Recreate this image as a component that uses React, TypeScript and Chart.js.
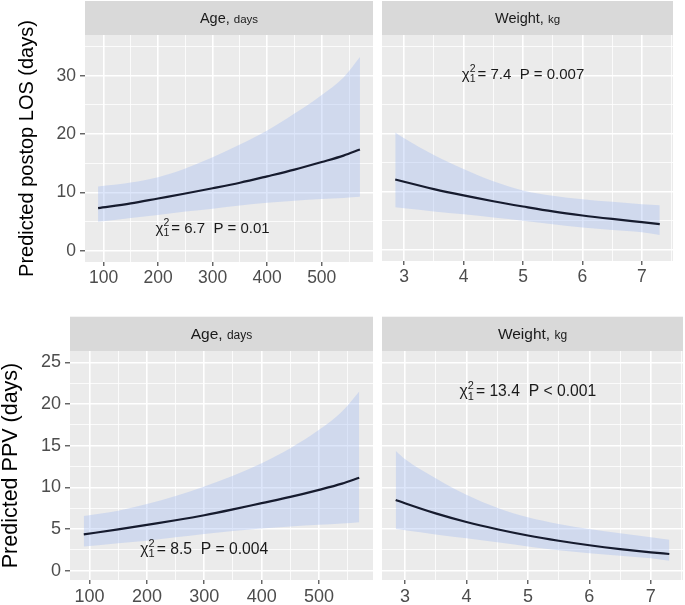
import React, { useEffect, useRef } from "react";
import { Chart, registerables } from "chart.js";

Chart.register(...registerables);

const FONT = '"Liberation Sans", Arial, Helvetica, sans-serif';

// ---------------- data ----------------
const ageDays = [90, 150, 200, 250, 300, 350, 400, 450, 500, 540, 570];
const losAgeFit = [7.3, 8.1, 8.95, 9.8, 10.7, 11.65, 12.75, 13.9, 15.2, 16.3, 17.35];
const losAgeUpper = [11.0, 11.7, 12.6, 14.1, 16.0, 18.2, 20.6, 23.5, 26.7, 29.7, 33.2];
const losAgeLower = [4.95, 5.6, 6.1, 6.7, 7.2, 7.75, 8.2, 8.55, 8.85, 9.05, 9.25];

const weightKg = [2.85, 3.0, 3.5, 4.0, 4.5, 5.0, 5.5, 6.0, 6.5, 7.0, 7.3];
const losWtFit = [12.1, 11.7, 10.45, 9.35, 8.35, 7.45, 6.6, 5.9, 5.3, 4.75, 4.42];
const losWtUpper = [20.2, 19.2, 16.3, 13.9, 11.8, 10.2, 9.3, 8.7, 8.25, 7.85, 7.65];
const losWtLower = [7.3, 7.15, 6.6, 6.1, 5.55, 5.0, 4.4, 3.85, 3.4, 3.0, 2.55];

const ppvAgeFit = [4.35, 4.95, 5.5, 6.05, 6.65, 7.35, 8.1, 8.85, 9.7, 10.45, 11.15];
const ppvAgeUpper = [6.55, 7.2, 8.0, 8.95, 10.1, 11.4, 12.9, 14.7, 16.9, 19.1, 21.5];
const ppvAgeLower = [2.9, 3.3, 3.6, 4.0, 4.4, 4.75, 5.05, 5.3, 5.5, 5.65, 5.8];

const ppvWtFit = [8.49, 8.09, 6.87, 5.84, 4.97, 4.22, 3.59, 3.05, 2.59, 2.2, 2.0];
const ppvWtUpper = [14.4, 13.4, 11.1, 9.1, 7.55, 6.4, 5.6, 5.0, 4.5, 4.0, 3.7];
const ppvWtLower = [5.0, 4.85, 4.35, 3.9, 3.4, 2.9, 2.45, 2.1, 1.8, 1.5, 1.2];

// tick values
const ageTicks = [100, 200, 300, 400, 500];
const ageMinorTicks = [150, 250, 350, 450, 550];
const weightTicks = [3, 4, 5, 6, 7];
const weightMinorTicks = [3.5, 4.5, 5.5, 6.5, 7.5];
const losTicks = [0, 10, 20, 30];
const losMinorTicks = [5, 15, 25, 35];
const ppvTicks = [0, 5, 10, 15, 20, 25];
const ppvMinorTicks = [2.5, 7.5, 12.5, 17.5, 22.5];

// axis limits
const ageLimits = [66, 594];
const weightLimits = [2.6275, 7.5225];
const losLimits = [-1.94, 36.98];
const ppvLimits = [-1.12, 26.36];

// facet labels and test statistics
const facetAge = ["Age,", "days"];
const facetWeight = ["Weight,", "kg"];
const yTitleLos = "Predicted postop LOS (days)";
const yTitlePpv = "Predicted PPV (days)";
const noteLosAge = { x: 300, y: 4.0, stat: "6.7", rel: "=", p: "0.01" };
const noteLosWt = { x: 5, y: 30.4, stat: "7.4", rel: "=", p: "0.007" };
const notePpvAge = { x: 300, y: 2.7, stat: "8.5", rel: "=", p: "0.004" };
const notePpvWt = { x: 5, y: 21.6, stat: "13.4", rel: "<", p: "0.001" };

// ---------------- drawing helpers ----------------
const panelPlugin = {
  id: "ggpanel",
  beforeDraw(chart: any, _args: any, opts: any) {
    const { ctx, chartArea: a } = chart;
    ctx.save();
    ctx.fillStyle = "#EBEBEB";
    ctx.fillRect(a.left, a.top, a.right - a.left, a.bottom - a.top);
    ctx.fillStyle = "#D9D9D9";
    ctx.fillRect(a.left, opts.stripTop, a.right - a.left, a.top - opts.stripTop);
    ctx.fillStyle = "#1A1A1A";
    ctx.textBaseline = "alphabetic";
    ctx.textAlign = "left";
    const mainFont = `${opts.mainSize}px ${FONT}`;
    const subFont = `${opts.subSize}px ${FONT}`;
    const m = opts.label[0] + " ";
    ctx.font = mainFont;
    const wm = ctx.measureText(m).width;
    ctx.font = subFont;
    const ws = ctx.measureText(opts.label[1]).width;
    const cx = (a.left + a.right) / 2;
    const x0 = cx - (wm + ws) / 2;
    ctx.font = mainFont;
    ctx.fillText(m, x0, opts.stripBaseline);
    ctx.font = subFont;
    ctx.fillText(opts.label[1], x0 + wm, opts.stripBaseline);
    ctx.restore();
  },
  afterDatasetsDraw(chart: any, _args: any, opts: any) {
    const { ctx, scales } = chart;
    const n = opts.note;
    const size = opts.noteSize;
    const px = scales.x.getPixelForValue(n.x);
    const py = scales.y.getPixelForValue(n.y);
    const big = `${size}px ${FONT}`;
    const small = `${size * 0.7}px ${FONT}`;
    ctx.save();
    ctx.fillStyle = "#1A1A1A";
    ctx.textAlign = "left";
    ctx.textBaseline = "alphabetic";
    ctx.font = big;
    const wChi = ctx.measureText("\u03C7").width;
    const rest = "= " + n.stat + "  P " + n.rel + " " + n.p;
    const wRest = ctx.measureText(rest).width;
    ctx.font = small;
    const wScr = Math.max(ctx.measureText("2").width, ctx.measureText("1").width) + 2;
    const total = wChi + wScr + wRest;
    const base = py + (size * 0.716) / 2;
    let x = px - total / 2;
    ctx.font = big;
    ctx.fillText("\u03C7", x, base);
    x += wChi;
    ctx.font = small;
    ctx.fillText("2", x, base - size * 0.46);
    ctx.fillText("1", x, base + size * 0.22);
    x += wScr;
    ctx.font = big;
    ctx.fillText(rest, x, base);
    ctx.restore();
  },
};

type Spec = {
  box: { left: number; top: number; width: number; height: number };
  area: { left: number; right: number; top: number; bottom: number };
  stripTop: number;
  stripBaseline: number;
  label: string[];
  mainSize: number;
  subSize: number;
  xs: number[];
  fit: number[];
  upper: number[];
  lower: number[];
  xLim: number[];
  yLim: number[];
  xMajor: number[];
  xMinor: number[];
  yMajor: number[];
  yMinor: number[];
  yLabels: boolean;
  yTitle?: string;
  yTitleSize?: number;
  yTitlePad?: number;
  tickSize: number;
  note: any;
  noteSize: number;
};

const RIBBON = "rgba(160,185,240,0.36)";
const LINE = "#161B2E";

function toPts(xs: number[], ys: number[]) {
  return xs.map((x, i) => ({ x, y: ys[i] }));
}

function Panel({ spec }: { spec: Spec }) {
  const ref = useRef<HTMLCanvasElement>(null);
  useEffect(() => {
    const s = spec;
    const isMajor = (vals: number[], v: number) => vals.some((m) => Math.abs(m - v) < 1e-9);
    const chart = new Chart(ref.current as HTMLCanvasElement, {
      type: "line",
      data: {
        datasets: [
          {
            data: toPts(s.xs, s.fit),
            borderWidth: 2.2,
            pointRadius: 0,
            fill: false,
            borderColor: LINE,
            cubicInterpolationMode: "monotone",
          },
          {
            data: toPts(s.xs, s.upper),
            borderWidth: 0,
            pointRadius: 0,
            fill: "+1",
            backgroundColor: RIBBON,
            borderColor: "rgba(0,0,0,0)",
            cubicInterpolationMode: "monotone",
          },
          {
            data: toPts(s.xs, s.lower),
            borderWidth: 0,
            pointRadius: 0,
            fill: false,
            borderColor: "rgba(0,0,0,0)",
            cubicInterpolationMode: "monotone",
          },
        ],
      } as any,
      options: {
        animation: false,
        responsive: false,
        maintainAspectRatio: false,
        devicePixelRatio: 1,
        events: [],
        layout: {
          padding: { left: 0, top: s.area.top, right: s.box.width - s.area.right, bottom: 0 },
        },
        plugins: {
          legend: { display: false },
          tooltip: { enabled: false },
          ggpanel: {
            stripTop: s.stripTop,
            stripBaseline: s.stripBaseline,
            label: s.label,
            mainSize: s.mainSize,
            subSize: s.subSize,
            note: s.note,
            noteSize: s.noteSize,
          },
        } as any,
        scales: {
          x: {
            type: "linear",
            min: s.xLim[0],
            max: s.xLim[1],
            afterBuildTicks: (sc: any) => {
              sc.ticks = [...s.xMajor, ...s.xMinor]
                .filter((v) => v >= s.xLim[0] && v <= s.xLim[1])
                .sort((a, b) => a - b)
                .map((v) => ({ value: v }));
            },
            afterFit: (sc: any) => {
              sc.height = s.box.height - s.area.bottom;
            },
            ticks: {
              autoSkip: false,
              maxRotation: 0,
              minRotation: 0,
              padding: 2,
              color: "#4D4D4D",
              font: { family: FONT, size: s.tickSize },
              callback: (v: any) => (isMajor(s.xMajor, Number(v)) ? String(v) : ""),
            },
            grid: {
              color: "#FFFFFF",
              lineWidth: (c: any) => (c.tick && isMajor(s.xMajor, c.tick.value) ? 1.6 : 0.8),
              tickLength: 4,
              tickWidth: 1.1,
              tickColor: (c: any) =>
                c.tick && isMajor(s.xMajor, c.tick.value) ? "#333333" : "rgba(0,0,0,0)",
            },
            border: { display: false },
          },
          y: {
            type: "linear",
            min: s.yLim[0],
            max: s.yLim[1],
            afterBuildTicks: (sc: any) => {
              sc.ticks = [...s.yMajor, ...s.yMinor]
                .filter((v) => v >= s.yLim[0] && v <= s.yLim[1])
                .sort((a, b) => a - b)
                .map((v) => ({ value: v }));
            },
            afterFit: (sc: any) => {
              sc.width = s.area.left;
            },
            ticks: {
              display: s.yLabels,
              autoSkip: false,
              padding: 4,
              color: "#4D4D4D",
              font: { family: FONT, size: s.tickSize },
              callback: (v: any) => (isMajor(s.yMajor, Number(v)) ? String(v) : ""),
            },
            grid: {
              color: "#FFFFFF",
              lineWidth: (c: any) => (c.tick && isMajor(s.yMajor, c.tick.value) ? 1.6 : 0.8),
              drawTicks: s.yLabels,
              tickLength: 5,
              tickWidth: 1.1,
              tickColor: (c: any) =>
                c.tick && isMajor(s.yMajor, c.tick.value) ? "#333333" : "rgba(0,0,0,0)",
            },
            border: { display: false },
            title: s.yTitle
              ? {
                  display: true,
                  text: s.yTitle,
                  color: "#000000",
                  font: { family: FONT, size: s.yTitleSize, lineHeight: 1 },
                  padding: { top: s.yTitlePad, bottom: 0 },
                }
              : { display: false },
          },
        },
      } as any,
      plugins: [panelPlugin as any],
    });
    return () => chart.destroy();
  }, [spec]);
  return (
    <canvas
      ref={ref}
      width={spec.box.width}
      height={spec.box.height}
      style={{
        position: "absolute",
        left: spec.box.left,
        top: spec.box.top,
        width: spec.box.width,
        height: spec.box.height,
      }}
    />
  );
}

const specs: Spec[] = [
  {
    box: { left: 0, top: 0, width: 378, height: 290 },
    area: { left: 85, right: 373, top: 35, bottom: 262 },
    stripTop: 1,
    stripBaseline: 23.3,
    label: facetAge,
    mainSize: 14.5,
    subSize: 11.5,
    xs: ageDays,
    fit: losAgeFit,
    upper: losAgeUpper,
    lower: losAgeLower,
    xLim: ageLimits,
    yLim: losLimits,
    xMajor: ageTicks,
    xMinor: ageMinorTicks,
    yMajor: losTicks,
    yMinor: losMinorTicks,
    yLabels: true,
    yTitle: yTitleLos,
    yTitleSize: 20,
    yTitlePad: 17,
    tickSize: 17.5,
    note: noteLosAge,
    noteSize: 15,
  },
  {
    box: { left: 378, top: 0, width: 307, height: 290 },
    area: { left: 4, right: 295, top: 35, bottom: 261 },
    stripTop: 1,
    stripBaseline: 23.3,
    label: facetWeight,
    mainSize: 14.5,
    subSize: 11.5,
    xs: weightKg,
    fit: losWtFit,
    upper: losWtUpper,
    lower: losWtLower,
    xLim: weightLimits,
    yLim: losLimits,
    xMajor: weightTicks,
    xMinor: weightMinorTicks,
    yMajor: losTicks,
    yMinor: losMinorTicks,
    yLabels: false,
    tickSize: 17.5,
    note: noteLosWt,
    noteSize: 15,
  },
  {
    box: { left: 0, top: 290, width: 378, height: 315 },
    area: { left: 70, right: 373, top: 61, bottom: 290 },
    stripTop: 26.7,
    stripBaseline: 49.3,
    label: facetAge,
    mainSize: 15.5,
    subSize: 12,
    xs: ageDays,
    fit: ppvAgeFit,
    upper: ppvAgeUpper,
    lower: ppvAgeLower,
    xLim: ageLimits,
    yLim: ppvLimits,
    xMajor: ageTicks,
    xMinor: ageMinorTicks,
    yMajor: ppvTicks,
    yMinor: ppvMinorTicks,
    yLabels: true,
    yTitle: yTitlePpv,
    yTitleSize: 21.5,
    yTitlePad: 0,
    tickSize: 18,
    note: notePpvAge,
    noteSize: 15.7,
  },
  {
    box: { left: 378, top: 290, width: 307, height: 315 },
    area: { left: 4, right: 305, top: 61, bottom: 290 },
    stripTop: 26.7,
    stripBaseline: 49.3,
    label: facetWeight,
    mainSize: 15.5,
    subSize: 12,
    xs: weightKg,
    fit: ppvWtFit,
    upper: ppvWtUpper,
    lower: ppvWtLower,
    xLim: weightLimits,
    yLim: ppvLimits,
    xMajor: weightTicks,
    xMinor: weightMinorTicks,
    yMajor: ppvTicks,
    yMinor: ppvMinorTicks,
    yLabels: false,
    tickSize: 18,
    note: notePpvWt,
    noteSize: 15.7,
  },
];

export default function App() {
  return (
    <div
      style={{
        position: "fixed",
        left: 0,
        top: 0,
        width: 685,
        height: 605,
        background: "#FFFFFF",
        overflow: "hidden",
      }}
    >
      {specs.map((s, i) => (
        <Panel key={i} spec={s} />
      ))}
    </div>
  );
}
